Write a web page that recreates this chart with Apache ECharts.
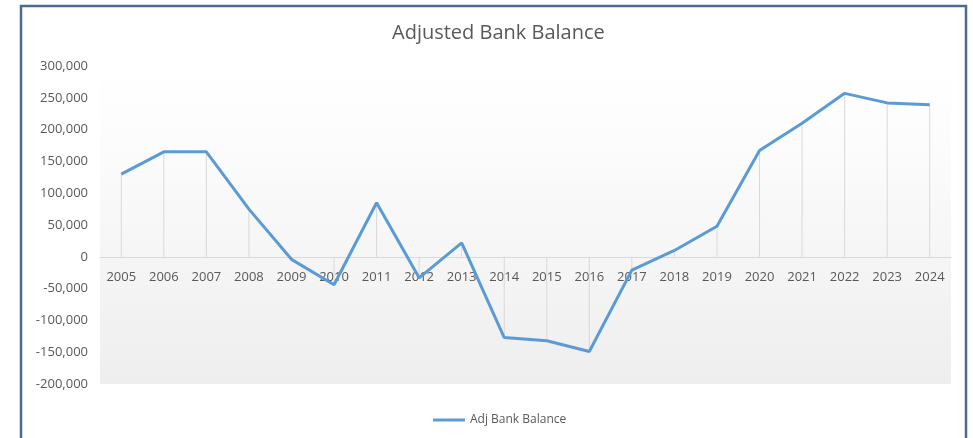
<!DOCTYPE html>
<html>
<head>
<meta charset="utf-8">
<script src="https://cdn.jsdelivr.net/npm/echarts@6/dist/echarts.min.js"></script>
<style>
html,body{margin:0;padding:0;background:#fff;}
#chart{width:973px;height:438px;}
</style>
</head>
<body>
<div id="chart"></div>
<script>
const years = ['2005','2006','2007','2008','2009','2010','2011','2012','2013','2014','2015','2016','2017','2018','2019','2020','2021','2022','2023','2024'];
const adjBankBalance = [130000,165000,165000,75000,-4000,-44000,85000,-33000,22000,-127000,-132000,-149000,-21000,10000,48000,167000,210000,257000,242000,239000];
const yTicks = {min:-200000, max:300000, interval:50000};

const chart = echarts.init(document.getElementById('chart'));
const font = '"Open Sans", "Noto Sans", sans-serif';
chart.setOption({
  animation:false,
  backgroundColor:'#ffffff',
  textStyle:{fontFamily:font},
  title:{
    text:'Adjusted Bank Balance', left:387, top:18,
    textStyle:{fontSize:20, fontWeight:'normal', color:'#595959', fontFamily:font}
  },
  legend:{
    data:['Adj Bank Balance'], top:409, left:428,
    itemWidth:32, itemHeight:3, icon:'rect', itemGap:6,
    textStyle:{fontSize:12, color:'#595959', fontFamily:font}
  },
  grid:{
    left:100, right:22, top:66, bottom:54, show:true, borderWidth:0,
    backgroundColor:{type:'linear', x:0, y:0, x2:0, y2:1,
      colorStops:[{offset:0,color:'#ffffff'},{offset:0.3,color:'#fbfbfb'},{offset:1,color:'#eeeeee'}]}
  },
  xAxis:{
    type:'category', data:years, boundaryGap:true,
    axisLine:{onZero:true, lineStyle:{color:'#d9d9d9', width:1}},
    axisTick:{show:false},
    axisLabel:{color:'#595959', fontSize:13, margin:-113, fontFamily:font}
  },
  yAxis:{
    type:'value', min:yTicks.min, max:yTicks.max, interval:yTicks.interval,
    splitLine:{show:false}, axisLine:{show:false}, axisTick:{show:false},
    axisLabel:{color:'#595959', fontSize:13, margin:12, fontFamily:font,
      formatter:v=>v.toLocaleString('en-US')}
  },
  series:[
    {name:'drop', type:'bar', data:adjBankBalance, barWidth:1, silent:true,
     itemStyle:{color:'#d9d9d9'}, z:1},
    {name:'Adj Bank Balance', type:'line', data:adjBankBalance, symbol:'none',
     lineStyle:{color:'#5b9bd5', width:3}, itemStyle:{color:'#5b9bd5'}, z:3}
  ],
  graphic:[
    {type:'rect', shape:{x:21, y:6, width:945, height:450},
     style:{fill:'none', stroke:'#4a6a8e', lineWidth:2.5}, silent:true}
  ]
});
</script>
</body>
</html>
